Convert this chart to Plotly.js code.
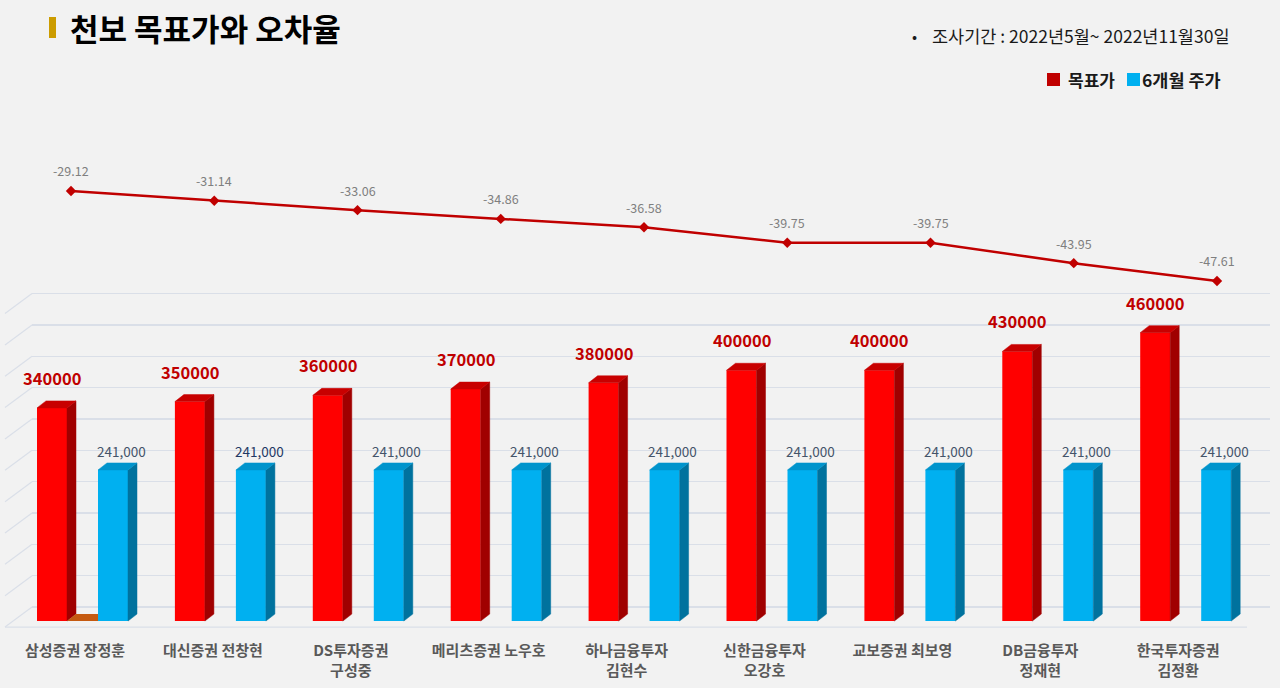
<!DOCTYPE html>
<html>
<head>
<meta charset="utf-8">
<script src="https://cdn.plot.ly/plotly-3.0.1.min.js"></script>
<style>html,body{margin:0;padding:0;background:#f2f2f2;}#chart{width:1280px;height:688px;}</style>
</head>
<body>
<div id="chart"></div>
<script>
// ---- data ----
const categories = ['삼성증권 장정훈','대신증권 전창현','DS투자증권<br>구성중','메리츠증권 노우호','하나금융투자<br>김현수','신한금융투자<br>오강호','교보증권 최보영','DB금융투자<br>정재현','한국투자증권<br>김정환'];
const targetPrice = [340000,350000,360000,370000,380000,400000,400000,430000,460000];
const price6m = [241000,241000,241000,241000,241000,241000,241000,241000,241000];
const errorRate = [-29.12,-31.14,-33.06,-34.86,-36.58,-39.75,-39.75,-43.95,-47.61];
const seriesNames = ['목표가','6개월 주가'];
const titleText = '천보 목표가와 오차율';
const bulletText = '•';
const periodText = '조사기간 : 2022년5월~ 2022년11월30일';

// ---- layout geometry ----
const W=1280,H=688,mL=32,mR=10,mT=0,mB=59;
const plotW=W-mL-mR, plotH=H-mT-mB;
const fx = px => (px-mL)/plotW;
const fy = py => (H-mB-py)/plotH;
const step=137.9, label0=75;
const xRange=[(mL-label0)/step,(W-mR-label0)/step];
const lineStep=143.25, line0=71;
const x2Range=[(mL-line0)/lineStep,(W-mR-line0)/lineStep];
const pxPerUnit=0.627/1000;
const yLow=-35000, yHigh=520000;
const y2Top=(yHigh-yLow)*pxPerUnit/plotH;
const baseY=-14/pxPerUnit, depthY=7/pxPerUnit;
const redOff=-23/step, blueOff=38/step, barW=30/step, dX=9/step;
const idx=categories.map((_,i)=>i);
const FONT='"Noto Sans CJK KR", "Noto Sans", sans-serif';

function sidePolys(off, vals){
  const xs=[],ys=[];
  vals.forEach((v,i)=>{
    const xr=i+off+barW/2;
    xs.push(xr,xr,xr+dX,xr+dX,xr,null);
    ys.push(baseY,baseY+v,baseY+v+depthY,baseY+depthY,baseY,null);
  });
  return {xs,ys};
}
function topPolys(off, vals){
  const xs=[],ys=[];
  vals.forEach((v,i)=>{
    const xl=i+off-barW/2, xr=i+off+barW/2, t=baseY+v;
    xs.push(xl,xr,xr+dX,xl+dX,xl,null);
    ys.push(t,t,t+depthY,t+depthY,t,null);
  });
  return {xs,ys};
}
function poly(p,color){
  return {type:'scatter',mode:'lines',x:p.xs,y:p.ys,fill:'toself',fillcolor:color,
    line:{width:0.5,color:color},xaxis:'x',yaxis:'y2',hoverinfo:'skip',showlegend:false};
}

const traces=[
  {type:'bar',name:seriesNames[0],x:idx.map(i=>i+redOff),y:targetPrice,base:baseY,width:barW,
   marker:{color:'#ff0000',line:{width:0}},xaxis:'x',yaxis:'y2',showlegend:false},
  {type:'bar',name:seriesNames[1],x:idx.map(i=>i+blueOff),y:price6m,base:baseY,width:barW,
   marker:{color:'#00b0f0',line:{width:0}},xaxis:'x',yaxis:'y2',showlegend:false},
  poly(sidePolys(redOff,targetPrice),'#a00000'),
  poly(topPolys(redOff,targetPrice),'#c80000'),
  poly(sidePolys(blueOff,price6m),'#00729e'),
  poly(topPolys(blueOff,price6m),'#0094cc'),
  // small floor patch between first pair of bars
  {type:'scatter',mode:'lines',
   x:[redOff+barW/2, blueOff-barW/2, blueOff-barW/2, redOff+barW/2+dX, redOff+barW/2],
   y:[baseY, baseY, baseY+depthY, baseY+depthY, baseY],
   fill:'toself',fillcolor:'#c55a11',line:{width:0,color:'#c55a11'},xaxis:'x',yaxis:'y2',hoverinfo:'skip',showlegend:false},
  {type:'scatter',mode:'lines+markers',name:'오차율',x:idx,y:errorRate,xaxis:'x2',yaxis:'y',
   line:{color:'#c00000',width:2.5},marker:{symbol:'diamond',size:8,color:'#c00000'},showlegend:false}
];

const annotations=[];
annotations.push({xref:'paper',yref:'paper',x:fx(68),y:fy(28),xanchor:'left',yanchor:'middle',showarrow:false,
  text:titleText,font:{family:FONT,size:31,color:'#000000',weight:'bold'}});
annotations.push({xref:'paper',yref:'paper',x:fx(910),y:fy(35),xanchor:'left',yanchor:'middle',showarrow:false,
  text:bulletText,font:{family:FONT,size:15,color:'#1a1a1a'}});
annotations.push({xref:'paper',yref:'paper',x:fx(930),y:fy(35),xanchor:'left',yanchor:'middle',showarrow:false,
  text:periodText,font:{family:FONT,size:17.5,color:'#1a1a1a'}});
annotations.push({xref:'paper',yref:'paper',x:fx(1066),y:fy(79),xanchor:'left',yanchor:'middle',showarrow:false,
  text:seriesNames[0],font:{family:FONT,size:17,color:'#1a1a1a',weight:'bold'}});
annotations.push({xref:'paper',yref:'paper',x:fx(1140),y:fy(79),xanchor:'left',yanchor:'middle',showarrow:false,
  text:seriesNames[1],font:{family:FONT,size:17.5,color:'#1a1a1a',weight:'bold'}});
targetPrice.forEach((v,i)=>{
  annotations.push({xref:'x',yref:'y2',x:i+redOff,y:baseY+v,yshift:30,showarrow:false,xanchor:'center',yanchor:'middle',
    text:String(v),font:{family:FONT,size:16.5,color:'#c00000',weight:'bold'}});
});
price6m.forEach((v,i)=>{
  annotations.push({xref:'x',yref:'y2',x:i+blueOff+dX*0.9,y:baseY+v,yshift:19,showarrow:false,xanchor:'center',yanchor:'middle',
    text:v.toLocaleString('en-US'),font:{family:FONT,size:13.5,color:i===1?'#1f3864':'#44546a'}});
});
errorRate.forEach((v,i)=>{
  annotations.push({xref:'x2',yref:'y',x:i,y:v,yshift:20,showarrow:false,xanchor:'center',yanchor:'middle',
    text:v.toFixed(2),font:{family:FONT,size:12.5,color:'#7f7f7f'}});
});

const gridColor='#dadfe8';
const shapes=[
  {type:'rect',xref:'paper',yref:'paper',x0:fx(49),x1:fx(56),y0:fy(17),y1:fy(38),fillcolor:'#cc9c00',line:{width:0}},
  {type:'rect',xref:'paper',yref:'paper',x0:fx(1047),x1:fx(1060),y0:fy(73),y1:fy(86),fillcolor:'#c00000',line:{width:0}},
  {type:'rect',xref:'paper',yref:'paper',x0:fx(1127),x1:fx(1140),y0:fy(73),y1:fy(86),fillcolor:'#00b0f0',line:{width:0}},
  {type:'line',xref:'paper',yref:'y2',x0:fx(5),x1:fx(1247),y0:-20/pxPerUnit,y1:-20/pxPerUnit,line:{color:gridColor,width:1.2},layer:'below'}
];
for(let v=0; v<=500000; v+=50000){
  shapes.push({type:'line',xref:'paper',yref:'y2',x0:fx(5),x1:0,y0:v-20/pxPerUnit,y1:v,line:{color:gridColor,width:1.2},layer:'below'});
}

const layout={
  width:W,height:H,margin:{l:mL,r:mR,t:mT,b:mB},
  paper_bgcolor:'#f2f2f2',plot_bgcolor:'#f2f2f2',
  barmode:'overlay',showlegend:false,
  font:{family:FONT},
  xaxis:{range:xRange,domain:[0,1],anchor:'y2',tickvals:idx,ticktext:categories,ticks:'',
    tickfont:{family:FONT,size:15,color:'#595959',weight:'bold'},ticklabelstandoff:11,
    showgrid:false,zeroline:false,showline:false,fixedrange:true},
  yaxis2:{range:[yLow,yHigh],domain:[0,y2Top],anchor:'x',tick0:0,dtick:50000,showgrid:true,gridcolor:gridColor,gridwidth:1.2,
    showticklabels:false,ticks:'',zeroline:false,showline:false},
  xaxis2:{range:x2Range,domain:[0,1],anchor:'y',visible:false,overlaying:'x'},
  yaxis:{range:[-50,-20],domain:[fy(292.6),fy(146.6)],anchor:'x2',visible:false},
  annotations:annotations,shapes:shapes
};
Plotly.newPlot('chart',traces,layout,{displayModeBar:false,staticPlot:true});
</script>
</body>
</html>
